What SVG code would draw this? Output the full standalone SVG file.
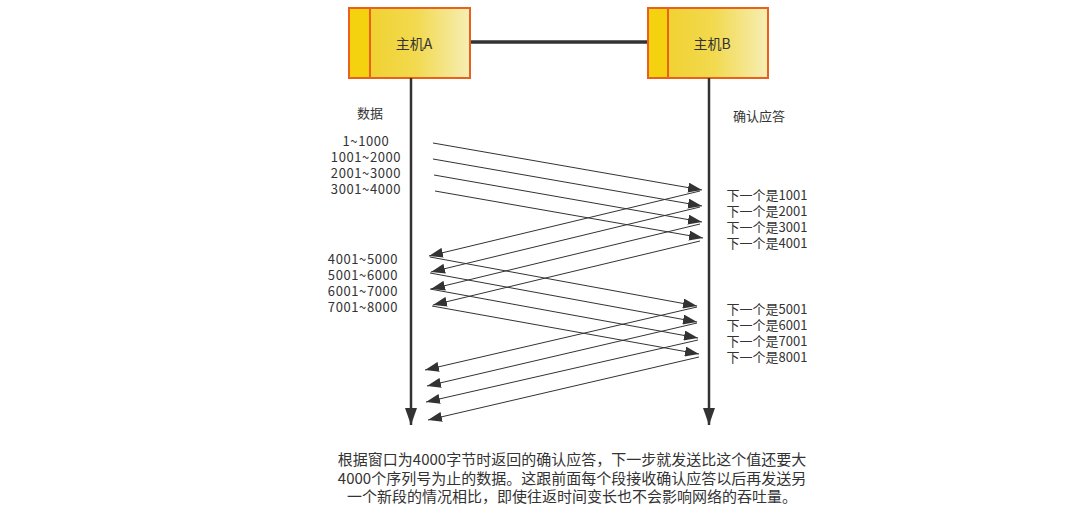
<svg xmlns="http://www.w3.org/2000/svg" width="1072" height="526" viewBox="0 0 1072 526">
  <style>
    .box { stroke: #E8621E; stroke-width: 2; }
    .strip { fill: #F5D20F; }
    .body { fill: url(#hostFill); }
    .t { font-family: "Noto Sans CJK SC", "Liberation Sans", sans-serif; fill: #333; }
    .lbl { font-size: 13px; text-anchor: middle; }
    .num { letter-spacing: 0.6px; }
    .host { font-size: 14px; text-anchor: middle; }
    .note { font-size: 15px; text-anchor: middle; }
    .msg { stroke: #333; stroke-width: 1; fill: none; marker-end: url(#head); }
    .life { stroke: #333; stroke-width: 2.5; fill: none; marker-end: url(#bighead); }
  </style>
  <defs>
    <linearGradient id="hostFill" x1="0" y1="0" x2="1" y2="0">
      <stop offset="0" stop-color="#F1D232"/>
      <stop offset="0.45" stop-color="#F2D94E"/>
      <stop offset="1" stop-color="#F6EEB4"/>
    </linearGradient>
    <marker id="head" markerUnits="userSpaceOnUse" markerWidth="14" markerHeight="10" refX="14" refY="5" orient="auto">
      <path d="M0,0 L14,5 L0,10 z" fill="#333"/>
    </marker>
    <marker id="bighead" markerUnits="userSpaceOnUse" markerWidth="12" markerHeight="17" refX="6" refY="17" orient="0">
      <path d="M0,0 L12,0 L6,17 z" fill="#333"/>
    </marker>
  </defs>

  <!-- link between the two hosts -->
  <line x1="470" y1="42" x2="648" y2="42" stroke="#333" stroke-width="3.5"/>

  <g id="hostA">
    <rect class="box strip" x="349" y="8" width="21" height="70"/>
    <rect class="box body" x="370" y="8" width="100" height="70"/>
    <text class="t host" x="414" y="49">主机A</text>
  </g>

  <g id="hostB">
    <rect class="box strip" x="648" y="8" width="20" height="70"/>
    <rect class="box body" x="668" y="8" width="100" height="70"/>
    <text class="t host" x="712" y="49">主机B</text>
  </g>

  <g id="connectors">
    <!-- timelines -->
    <line class="life" x1="411" y1="78" x2="411" y2="425"/>
    <line class="life" x1="709" y1="78" x2="709" y2="425"/>

    <!-- segments 1-4 -->
    <line class="msg" x1="433" y1="143" x2="702" y2="190"/>
    <line class="msg" x1="433" y1="159" x2="702" y2="206"/>
    <line class="msg" x1="434" y1="175" x2="702" y2="222"/>
    <line class="msg" x1="435" y1="191" x2="703" y2="238"/>

    <!-- acks 1001-4001 -->
    <line class="msg" x1="700" y1="191" x2="429" y2="256"/>
    <line class="msg" x1="700" y1="207" x2="431" y2="272"/>
    <line class="msg" x1="700" y1="224" x2="431" y2="289"/>
    <line class="msg" x1="700" y1="241" x2="433" y2="305"/>

    <!-- segments 5-8 -->
    <line class="msg" x1="430" y1="257" x2="697" y2="306"/>
    <line class="msg" x1="430" y1="273" x2="697" y2="322"/>
    <line class="msg" x1="430" y1="289" x2="698" y2="338"/>
    <line class="msg" x1="432" y1="306" x2="699" y2="354"/>

    <!-- acks 5001-8001 -->
    <line class="msg" x1="697" y1="307" x2="425" y2="370"/>
    <line class="msg" x1="697" y1="323" x2="427" y2="386"/>
    <line class="msg" x1="698" y1="340" x2="426" y2="402"/>
    <line class="msg" x1="699" y1="357" x2="428" y2="420"/>
  </g>

  <g id="labels-left">
    <text class="t lbl" x="370" y="118">数据</text>
    <text class="t lbl num" x="366" y="146">1~1000</text>
    <text class="t lbl num" x="366" y="162">1001~2000</text>
    <text class="t lbl num" x="366" y="178">2001~3000</text>
    <text class="t lbl num" x="366" y="194">3001~4000</text>
    <text class="t lbl num" x="363" y="264">4001~5000</text>
    <text class="t lbl num" x="363" y="280">5001~6000</text>
    <text class="t lbl num" x="363" y="296">6001~7000</text>
    <text class="t lbl num" x="363" y="312">7001~8000</text>
  </g>

  <g id="labels-right">
    <text class="t lbl" x="759" y="121">确认应答</text>
    <text class="t lbl" x="767" y="200">下一个是1001</text>
    <text class="t lbl" x="767" y="216">下一个是2001</text>
    <text class="t lbl" x="767" y="232">下一个是3001</text>
    <text class="t lbl" x="767" y="248">下一个是4001</text>
    <text class="t lbl" x="767" y="314">下一个是5001</text>
    <text class="t lbl" x="767" y="330">下一个是6001</text>
    <text class="t lbl" x="767" y="346">下一个是7001</text>
    <text class="t lbl" x="767" y="362">下一个是8001</text>
  </g>

  <g id="caption">
    <text class="t note" x="572" y="465">根据窗口为4000字节时返回的确认应答，下一步就发送比这个值还要大</text>
    <text class="t note" x="572" y="484">4000个序列号为止的数据。这跟前面每个段接收确认应答以后再发送另</text>
    <text class="t note" x="572" y="502">一个新段的情况相比，即使往返时间变长也不会影响网络的吞吐量。</text>
  </g>
</svg>
